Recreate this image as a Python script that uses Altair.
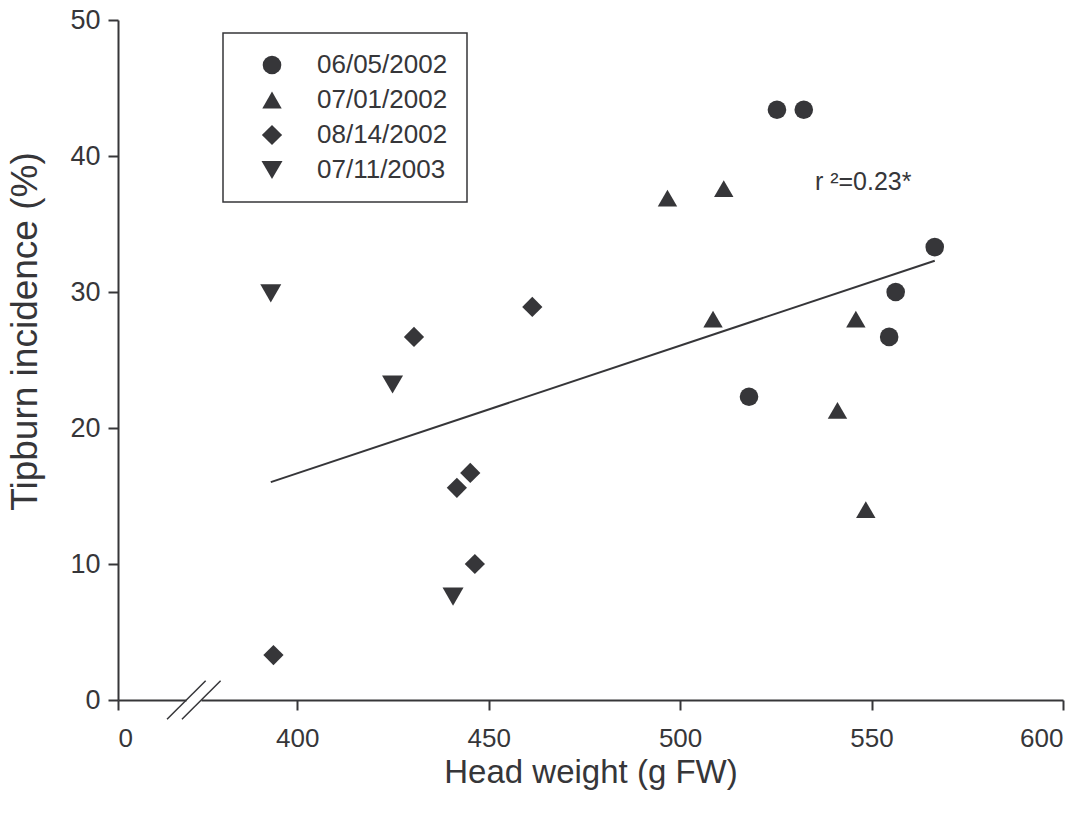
import altair as alt
import pandas as pd

# ---- data ----
series = ["06/05/2002", "07/01/2002", "08/14/2002", "07/11/2003"]
shapes = ["circle", "triangle-up", "diamond", "triangle-down"]
sizes = [346, 441, 576, 441]

w_0605 = [525.3, 532.3, 566.5, 556.3, 554.6, 518.0]
t_0605 = [43.4, 43.4, 33.3, 30.0, 26.7, 22.3]
w_0701 = [496.7, 511.4, 508.6, 545.9, 541.1, 548.5]
t_0701 = [36.9, 37.6, 28.0, 28.0, 21.3, 14.0]
w_0814 = [461.4, 430.5, 445.2, 441.7, 446.4, 393.8]
t_0814 = [28.9, 26.7, 16.7, 15.6, 10.0, 3.3]
w_0711 = [393.1, 424.9, 440.7]
t_0711 = [29.9, 23.2, 7.6]

# axis: broken x axis, the first tick stands for 0
x_ticks = [353.2, 400, 450, 500, 550, 600]
y_ticks = [0, 10, 20, 30, 40, 50]

# axis break decoration (data units)
gap_x = [371.1, 375.0]
slash_x1 = [366.0, 369.9]
slash_x2 = [376.1, 380.0]
slash_y = [-1.42, 1.42]

annot_text = ["r \u00b2=0.23*"]
annot_x = [535.2]
annot_y = [37.5]

INK = "#363639"
FONT = "Liberation Sans"

rows = []
for name, ws, ts in [(series[0], w_0605, t_0605), (series[1], w_0701, t_0701),
                     (series[2], w_0814, t_0814), (series[3], w_0711, t_0711)]:
    for w, t in zip(ws, ts):
        rows.append({"w": w, "t": t, "date": name})
df = pd.DataFrame(rows)

xscale = alt.Scale(domain=[x_ticks[0], x_ticks[-1]], nice=False, zero=False)
yscale = alt.Scale(domain=[y_ticks[0], y_ticks[-1]], nice=False)

xaxis = alt.Axis(values=x_ticks, labelExpr="datum.value < 380 ? '0' : format(datum.value, 'd')",
                 title="Head weight (g FW)", grid=False, tickSize=10, tickWidth=2,
                 domainWidth=2, domainColor=INK, tickColor=INK, labelColor=INK,
                 titleColor=INK, labelFontSize=26, titleFontSize=33, labelFont=FONT,
                 titleFont=FONT, titleFontWeight="normal", labelPadding=15, titlePadding=5)
yaxis = alt.Axis(values=y_ticks, title="Tipburn incidence (%)", grid=False, tickSize=10,
                 tickWidth=2, domainWidth=2, domainColor=INK, tickColor=INK, labelColor=INK,
                 titleColor=INK, labelFontSize=27, titleFontSize=37, labelFont=FONT,
                 titleFont=FONT, titleFontWeight="normal", labelPadding=8, titlePadding=25,
                 titleY=311)

base = alt.Chart(df)

points = base.mark_point(filled=True, opacity=1, color=INK, strokeWidth=0).encode(
    x=alt.X("w:Q", scale=xscale, axis=xaxis),
    y=alt.Y("t:Q", scale=yscale, axis=yaxis),
    shape=alt.Shape("date:N", scale=alt.Scale(domain=series, range=shapes),
                    legend=alt.Legend(title=None)),
    size=alt.Size("date:N", scale=alt.Scale(domain=series, range=sizes),
                  legend=alt.Legend(title=None)),
)

reg = base.transform_regression("w", "t").mark_line(color=INK, strokeWidth=2).encode(
    x=alt.X("w:Q", scale=xscale),
    y=alt.Y("t:Q", scale=yscale),
)

gap_df = pd.DataFrame({"x": [gap_x[0]], "x2": [gap_x[1]], "y": [0.0]})
gap = alt.Chart(gap_df).mark_rule(color="white", strokeWidth=5).encode(
    x=alt.X("x:Q", scale=xscale), x2="x2:Q", y=alt.Y("y:Q", scale=yscale))

slash_df = pd.DataFrame({"x": slash_x1, "x2": slash_x2,
                         "y": [slash_y[0]] * 2, "y2": [slash_y[1]] * 2})
slashes = alt.Chart(slash_df).mark_rule(color=INK, strokeWidth=1.5).encode(
    x=alt.X("x:Q", scale=xscale), x2="x2:Q",
    y=alt.Y("y:Q", scale=yscale), y2="y2:Q")

ann_df = pd.DataFrame({"x": annot_x, "y": annot_y, "label": annot_text})
ann = alt.Chart(ann_df).mark_text(align="left", baseline="alphabetic", fontSize=25,
                                  font=FONT, color=INK).encode(
    x=alt.X("x:Q", scale=xscale), y=alt.Y("y:Q", scale=yscale), text="label:N")

chart = alt.layer(reg, points, gap, slashes, ann).properties(
    width=945, height=680,
    autosize=alt.AutoSizeParams(type="none"),
    padding={"left": 118, "top": 20, "right": 27, "bottom": 114},
    background="white",
).configure_view(stroke=None).configure_legend(
    orient="none", legendX=105, legendY=13,
    strokeColor=INK, strokeWidth=1.5, fillColor="white",
    padding=19, symbolOffset=17, labelOffset=32, rowPadding=9,
    labelFontSize=26, labelFont=FONT, labelColor=INK,
    symbolFillColor=INK, symbolStrokeWidth=0, symbolStrokeColor=INK,
    labelLimit=400,
)

chart.save("out.html", embed_options={"renderer": "svg", "actions": False})
